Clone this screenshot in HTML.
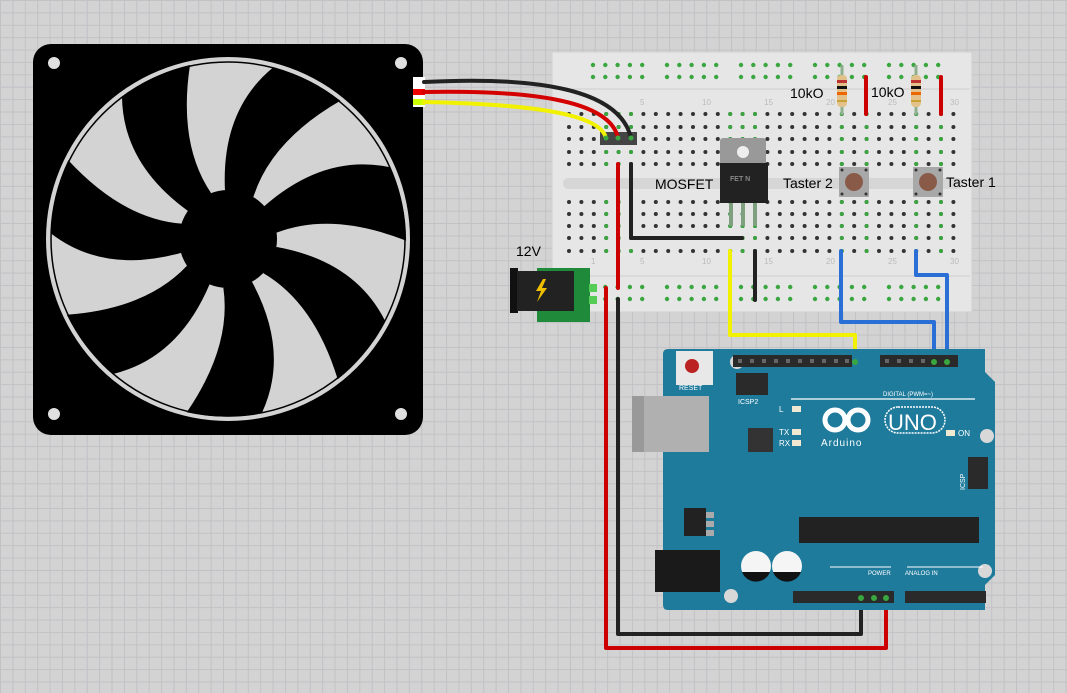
<!DOCTYPE html>
<html><head><meta charset="utf-8"><style>
html,body{margin:0;padding:0;}
body{width:1067px;height:693px;overflow:hidden;background-color:#d3d3d3;
background-image:linear-gradient(90deg,#c2c2c6 1px,transparent 1px),linear-gradient(#c2c2c6 1px,transparent 1px);
background-size:12.4px 12.4px;background-position:0 0;font-family:"Liberation Sans",sans-serif;}
svg{position:absolute;left:0;top:0;}
</style></head><body>
<svg width="1067" height="693" viewBox="0 0 1067 693" xmlns="http://www.w3.org/2000/svg" font-family="Liberation Sans, sans-serif">
<defs>
<path id="bl" d="M -17,-46 Q -50,-95 -38,-174 A 177 177 0 0 0 -106,-142 Q -105,-75 -40,-28 Z"/>
<g id="col"><circle cx="0" cy="114" r="2"/><circle cx="0" cy="127" r="2"/><circle cx="0" cy="139" r="2"/><circle cx="0" cy="152" r="2"/><circle cx="0" cy="164" r="2"/>
<circle cx="0" cy="202" r="2"/><circle cx="0" cy="214" r="2"/><circle cx="0" cy="226" r="2"/><circle cx="0" cy="238" r="2"/><circle cx="0" cy="251" r="2"/></g>
<g id="rg"><circle cx="593" cy="65" r="2.2"/><circle cx="605.3" cy="65" r="2.2"/><circle cx="617.6" cy="65" r="2.2"/><circle cx="629.9" cy="65" r="2.2"/><circle cx="642.2" cy="65" r="2.2"/>
<circle cx="593" cy="77" r="2.2"/><circle cx="605.3" cy="77" r="2.2"/><circle cx="617.6" cy="77" r="2.2"/><circle cx="629.9" cy="77" r="2.2"/><circle cx="642.2" cy="77" r="2.2"/></g>
</defs>
<!-- FAN -->
<rect x="33" y="44" width="390" height="391" rx="18" fill="#000"/>
<circle cx="228" cy="239" r="182" fill="#d3d3d3"/>
<circle cx="228" cy="239" r="177" fill="none" stroke="#000" stroke-width="1.5"/>
<g transform="translate(228,239)" fill="#000">
<use href="#bl"/>
<use href="#bl" transform="rotate(51.43)"/>
<use href="#bl" transform="rotate(102.86)"/>
<use href="#bl" transform="rotate(154.29)"/>
<use href="#bl" transform="rotate(205.71)"/>
<use href="#bl" transform="rotate(257.14)"/>
<use href="#bl" transform="rotate(308.57)"/>
<circle r="49"/>
</g>
<g fill="#e0e0e0"><circle cx="54" cy="63" r="6"/><circle cx="401" cy="63" r="6"/><circle cx="54" cy="414" r="6"/><circle cx="401" cy="414" r="6"/></g>
<rect x="413" y="77" width="12" height="30" fill="#fff"/>
<rect x="413" y="89" width="12" height="6" fill="#e00"/>
<rect x="413" y="99" width="12" height="6" fill="#cf0"/>

<!-- BREADBOARD -->
<rect x="552" y="52" width="420" height="260" fill="#e6e6e6" stroke="#d0d0d0"/>
<line x1="555" y1="89" x2="970" y2="89" stroke="#cfcfcf"/>
<line x1="555" y1="276" x2="970" y2="276" stroke="#cfcfcf"/>
<rect x="563" y="178" width="400" height="11" rx="5" fill="#d6d6d6"/>
<g fill="#3aa640">
<use href="#rg"/><use href="#rg" x="74"/><use href="#rg" x="148"/><use href="#rg" x="222"/><use href="#rg" x="296"/>
<use href="#rg" y="222"/><use href="#rg" x="74" y="222"/><use href="#rg" x="148" y="222"/><use href="#rg" x="222" y="222"/><use href="#rg" x="296" y="222"/>
</g>
<g fill="#333">
<use href="#col" x="569"/><use href="#col" x="581.4"/><use href="#col" x="593.8"/><use href="#col" x="606.2"/><use href="#col" x="618.6"/><use href="#col" x="631"/>
<use href="#col" x="643.4"/><use href="#col" x="655.8"/><use href="#col" x="668.2"/><use href="#col" x="680.6"/><use href="#col" x="693"/><use href="#col" x="705.4"/>
<use href="#col" x="717.8"/><use href="#col" x="730.2"/><use href="#col" x="742.6"/><use href="#col" x="755"/><use href="#col" x="767.4"/><use href="#col" x="779.8"/>
<use href="#col" x="792.2"/><use href="#col" x="804.6"/><use href="#col" x="817"/><use href="#col" x="829.4"/><use href="#col" x="841.8"/><use href="#col" x="854.2"/>
<use href="#col" x="866.6"/><use href="#col" x="879"/><use href="#col" x="891.4"/><use href="#col" x="903.8"/><use href="#col" x="916.2"/><use href="#col" x="928.6"/><use href="#col" x="941"/><use href="#col" x="953.4"/>
</g>
<g fill="#3aa640">
<use href="#col" x="606.2"/><use href="#col" x="618.6"/><use href="#col" x="631"/>
<use href="#col" x="730.2"/><use href="#col" x="742.6"/><use href="#col" x="755"/>
<use href="#col" x="841.8"/><use href="#col" x="866.6"/><use href="#col" x="916.2"/><use href="#col" x="941"/>
</g>
<g font-size="8" fill="#bbb">
<text x="640" y="105">5</text><text x="702" y="105">10</text><text x="764" y="105">15</text><text x="826" y="105">20</text><text x="888" y="105">25</text><text x="950" y="105">30</text>
<text x="591" y="264">1</text><text x="640" y="264">5</text><text x="702" y="264">10</text><text x="764" y="264">15</text><text x="826" y="264">20</text><text x="888" y="264">25</text><text x="950" y="264">30</text>
</g>

<rect x="600" y="132" width="37" height="13" fill="#444"/>
<g fill="none" stroke-width="4" stroke-linecap="round">
<path d="M 424,82 C 540,76 620,90 631,138" stroke="#222"/>
<path d="M 424,92 C 530,90 610,100 618,138" stroke="#d40000"/>
<path d="M 424,102 C 520,104 600,112 606,138" stroke="#f2f200"/>
</g>
<g fill="#3aa640"><circle cx="606" cy="138" r="2.5"/><circle cx="618" cy="138" r="2.5"/><circle cx="631" cy="138" r="2.5"/></g>

<g fill="none" stroke-width="4" stroke-linejoin="round" stroke-linecap="round">
<path d="M 618,164 L 618,288" stroke="#c00"/>
<path d="M 631,164 L 631,238 L 742,238" stroke="#222"/>
<path d="M 606,288 L 606,648 L 886,648 L 886,598" stroke="#c00"/>
<path d="M 618,299 L 618,634 L 861,634 L 861,598" stroke="#222"/>
<path d="M 730,251 L 730,335 L 855,335 L 855,362" stroke="#f2f200"/>
<path d="M 755,251 L 755,300" stroke="#222"/>
<path d="M 841,251 L 841,322 L 934,322 L 934,362" stroke="#2a6fd6"/>
<path d="M 916,251 L 916,275 L 947,275 L 947,362" stroke="#2a6fd6"/>
<path d="M 866,77 L 866,114" stroke="#c00"/>
<path d="M 941,77 L 941,114" stroke="#c00"/>
</g>

<g>
<line x1="842" y1="65" x2="842" y2="115" stroke="#8fb08f" stroke-width="3"/>
<rect x="837" y="75" width="10" height="32" rx="4" fill="#e2c28a"/>
<rect x="837" y="80" width="10" height="3" fill="#b33"/><rect x="837" y="86" width="10" height="3" fill="#111"/><rect x="837" y="92" width="10" height="3" fill="#e60"/><rect x="837" y="100" width="10" height="2" fill="#c9a233"/>
<line x1="916" y1="65" x2="916" y2="115" stroke="#8fb08f" stroke-width="3"/>
<rect x="911" y="75" width="10" height="32" rx="4" fill="#e2c28a"/>
<rect x="911" y="80" width="10" height="3" fill="#b33"/><rect x="911" y="86" width="10" height="3" fill="#111"/><rect x="911" y="92" width="10" height="3" fill="#e60"/><rect x="911" y="100" width="10" height="2" fill="#c9a233"/>
</g>
<g font-size="14" fill="#000">
<text x="790" y="98">10kO</text><text x="871" y="97">10kO</text>
<text x="655" y="189">MOSFET</text>
<text x="783" y="188">Taster 2</text><text x="946" y="187">Taster 1</text>
<text x="516" y="256">12V</text>
</g>
<g>
<line x1="731" y1="200" x2="731" y2="226" stroke="#7fa07f" stroke-width="4"/>
<line x1="743" y1="200" x2="743" y2="226" stroke="#7fa07f" stroke-width="4"/>
<line x1="755" y1="200" x2="755" y2="226" stroke="#7fa07f" stroke-width="4"/>
<rect x="720" y="138" width="46" height="35" rx="3" fill="#999"/>
<circle cx="743" cy="152" r="6" fill="#eee"/>
<rect x="720" y="163" width="48" height="40" fill="#222"/>
<text x="730" y="181" font-size="7" fill="#888" font-weight="bold">FET N</text>
</g>
<g>
<rect x="839" y="167" width="30" height="30" fill="#a8a8a8"/>
<circle cx="854" cy="182" r="9" fill="#8a5a48"/>
<g fill="#333"><circle cx="842" cy="170" r="1.5"/><circle cx="866" cy="170" r="1.5"/><circle cx="842" cy="194" r="1.5"/><circle cx="866" cy="194" r="1.5"/></g>
<rect x="913" y="167" width="30" height="30" fill="#a8a8a8"/>
<circle cx="928" cy="182" r="9" fill="#8a5a48"/>
<g fill="#333"><circle cx="916" cy="170" r="1.5"/><circle cx="940" cy="170" r="1.5"/><circle cx="916" cy="194" r="1.5"/><circle cx="940" cy="194" r="1.5"/></g>
</g>
<g>
<rect x="537" y="268" width="53" height="54" fill="#1e8a3a"/>
<rect x="510" y="268" width="8" height="45" fill="#111"/>
<rect x="517" y="271" width="57" height="40" fill="#222"/>
<path d="M 543,279 L 536,291 L 541,291 L 537,302 L 547,288 L 542,288 L 546,279 Z" fill="#f0c000"/>
<rect x="589" y="284" width="8" height="8" fill="#5c5"/><rect x="589" y="296" width="8" height="8" fill="#5c5"/>
</g>

<!-- ARDUINO -->
<path d="M 668,349 L 985,349 L 985,372 L 995,382 L 995,575 L 985,585 L 985,610 L 668,610 Q 663,610 663,605 L 663,354 Q 663,349 668,349 Z" fill="#1f7b9c"/>
<circle cx="737" cy="362" r="7" fill="#d8d8d8"/><circle cx="987" cy="436" r="7" fill="#d8d8d8"/><circle cx="985" cy="571" r="7" fill="#d8d8d8"/><circle cx="731" cy="596" r="7" fill="#d8d8d8"/>
<rect x="733" y="355" width="119" height="12" fill="#2a2a2a"/>
<rect x="880" y="355" width="78" height="12" fill="#2a2a2a"/>
<rect x="793" y="591" width="101" height="12" fill="#2a2a2a"/>
<rect x="905" y="591" width="81" height="12" fill="#2a2a2a"/>
<g fill="#666">
<rect x="738" y="359" width="4" height="4"/><rect x="750" y="359" width="4" height="4"/><rect x="762" y="359" width="4" height="4"/><rect x="774" y="359" width="4" height="4"/><rect x="786" y="359" width="4" height="4"/><rect x="798" y="359" width="4" height="4"/><rect x="810" y="359" width="4" height="4"/><rect x="822" y="359" width="4" height="4"/><rect x="834" y="359" width="4" height="4"/><rect x="845" y="359" width="4" height="4"/>
<rect x="885" y="359" width="4" height="4"/><rect x="897" y="359" width="4" height="4"/><rect x="909" y="359" width="4" height="4"/><rect x="921" y="359" width="4" height="4"/>
</g>
<rect x="676" y="351" width="37" height="34" fill="#e8e8e8"/>
<circle cx="692" cy="366" r="7" fill="#b22"/>
<text x="679" y="390" font-size="7" fill="#fff">RESET</text>
<rect x="736" y="373" width="32" height="22" fill="#2a2a2a"/>
<text x="738" y="404" font-size="7" fill="#fff">ICSP2</text>
<rect x="632" y="396" width="77" height="56" fill="#b0b0b0"/>
<rect x="632" y="396" width="12" height="56" fill="#999"/>
<rect x="748" y="428" width="25" height="24" fill="#333"/>
<g fill="#fff" font-size="8">
<text x="779" y="412">L</text><text x="779" y="435">TX</text><text x="779" y="446">RX</text><text x="958" y="436">ON</text>
<text x="883" y="396" font-size="6">DIGITAL (PWM=~)</text>
<text x="905" y="575" font-size="6">ANALOG IN</text><text x="868" y="575" font-size="6">POWER</text>
</g>
<g fill="#f0e8d0"><rect x="792" y="406" width="9" height="6"/><rect x="792" y="429" width="9" height="6"/><rect x="792" y="440" width="9" height="6"/><rect x="946" y="430" width="9" height="6"/></g>
<line x1="791" y1="399" x2="975" y2="399" stroke="#fff" stroke-width="1.2"/>
<g fill="none" stroke="#fff" stroke-width="5">
<circle cx="835" cy="420" r="10"/><circle cx="858" cy="420" r="10"/>
</g>
<rect x="885" y="407" width="60" height="26" rx="13" fill="none" stroke="#fff" stroke-width="1.5" stroke-dasharray="2 1"/>
<text x="888" y="430" font-size="22" fill="#fff">UNO</text>
<text x="821" y="446" font-size="10" fill="#fff" letter-spacing="1">Arduino</text>
<rect x="968" y="457" width="20" height="32" fill="#2a2a2a"/>
<text x="965" y="490" font-size="7" fill="#fff" transform="rotate(-90 965 490)">ICSP</text>
<rect x="799" y="517" width="180" height="26" fill="#222"/>
<rect x="684" y="508" width="22" height="28" fill="#222"/>
<rect x="706" y="512" width="8" height="6" fill="#aaa"/><rect x="706" y="521" width="8" height="6" fill="#aaa"/><rect x="706" y="530" width="8" height="6" fill="#aaa"/>
<rect x="655" y="550" width="65" height="42" fill="#1a1a1a"/>
<circle cx="756" cy="566" r="15" fill="#f5f5f5"/><path d="M 742,572 A 15 15 0 0 0 770,572 Z" fill="#111"/>
<circle cx="787" cy="566" r="15" fill="#f5f5f5"/><path d="M 773,572 A 15 15 0 0 0 801,572 Z" fill="#111"/>
<line x1="830" y1="567" x2="891" y2="567" stroke="#fff"/><line x1="907" y1="567" x2="983" y2="567" stroke="#fff"/>
<g fill="#3aa640"><circle cx="855" cy="362" r="3"/><circle cx="934" cy="362" r="3"/><circle cx="947" cy="362" r="3"/><circle cx="861" cy="598" r="3"/><circle cx="874" cy="598" r="3"/><circle cx="886" cy="598" r="3"/></g>
</svg>
</body></html>
